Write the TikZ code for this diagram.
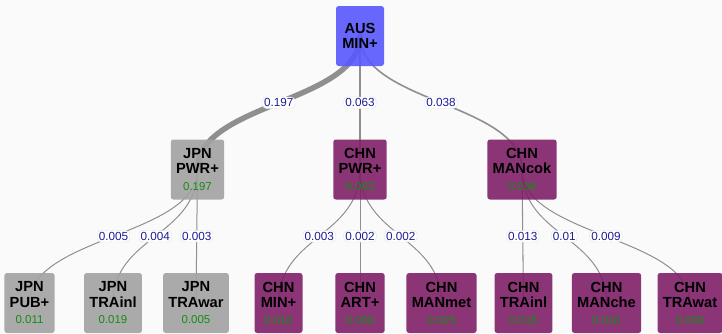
\documentclass[tikz,border=0pt]{standalone}
\usepackage{fontspec}
\setmainfont{Liberation Sans}
\usepackage{xcolor}
\usepackage{tikz}
\usetikzlibrary{calc,backgrounds}
\definecolor{TBack}{HTML}{FAFAFA}
\definecolor{TBlue}{HTML}{5858FF}
\definecolor{TGrey}{HTML}{A2A2A2}
\definecolor{TPlum}{HTML}{7F2068}
\definecolor{TEdge}{HTML}{8F8F8F}
\definecolor{TLab}{HTML}{1C1C96}
\definecolor{TVal}{HTML}{148C14}

\tikzset{
  cell/.style={rounded corners=2pt,fill opacity=0.9,text opacity=1,minimum width=36pt,minimum height=45pt,
    inner xsep=4pt,inner ysep=0pt,align=center,font=\fontsize{11}{11.5}\selectfont\bfseries},
  link/.style={TEdge,line cap=round},
  weight/.style={fill=white,draw=black!12,line width=0.3pt,rounded corners=3pt,inner sep=1.2pt,
    text=TLab,font=\fontsize{8.8}{9}\selectfont}
}
\newcommand{\val}[1]{\\[1pt]{\fontsize{8.6}{9}\selectfont\mdseries\color{TVal}#1}}
\newcommand{\treelink}[4]{%
  \draw[link,line width=#3pt] let \p1=(#1.center), \p2=(#2.center), \p3=($(\p1)!0.5!(\p2)$) in
    (\p1) .. controls (\x1,\y3) and (\x2,\y3) .. node[weight]{#4} (\p2);}

\begin{document}
\begin{tikzpicture}[x=0.75pt,y=-0.75pt]
\useasboundingbox (0,0) rectangle (722,333);

% root and first level
\node[cell,fill=TBlue] (ausmin) at (360,36) {AUS\\MIN+};
\node[cell,fill=TGrey] (jpnpwr) at (197.5,169.5) {JPN\\PWR+\val{0.197}};
\node[cell,fill=TPlum] (chnpwr) at (360,169.5) {CHN\\PWR+\val{0.063}};
\node[cell,fill=TPlum] (chncok) at (522,169.5) {CHN\\MANcok\val{0.038}};

% leaves
\foreach \px/\nm/\a/\b/\v/\col in {29.5/jpnpub/JPN/PUB+/0.011/TGrey,113/jpninl/JPN/TRAinl/0.019/TGrey,
  196/jpnwar/JPN/TRAwar/0.005/TGrey,278.5/chnmin/CHN/MIN+/0.016/TPlum,360/chnart/CHN/ART+/0.008/TPlum,
  441.5/chnmet/CHN/MANmet/0.025/TPlum,523.5/chninl/CHN/TRAinl/0.015/TPlum,
  606.5/chnche/CHN/MANche/0.016/TPlum,690/chnwat/CHN/TRAwat/0.009/TPlum}
  \node[cell,fill=\col] (\nm) at (\px,303) {\a\\\b\val{\v}};

\begin{scope}[on background layer]
\fill[TBack] (0,0) rectangle (722,333);
\treelink{ausmin}{jpnpwr}{4.1}{0.197}
\treelink{ausmin}{chnpwr}{1.5}{0.063}
\treelink{ausmin}{chncok}{1.2}{0.038}
\treelink{jpnpwr}{jpnpub}{0.75}{0.005}
\treelink{jpnpwr}{jpninl}{0.75}{0.004}
\treelink{jpnpwr}{jpnwar}{0.75}{0.003}
\treelink{chnpwr}{chnmin}{0.75}{0.003}
\treelink{chnpwr}{chnart}{0.75}{0.002}
\treelink{chnpwr}{chnmet}{0.75}{0.002}
\treelink{chncok}{chninl}{0.8}{0.013}
\treelink{chncok}{chnche}{0.75}{0.01}
\treelink{chncok}{chnwat}{0.75}{0.009}
\end{scope}
\end{tikzpicture}
\end{document}
